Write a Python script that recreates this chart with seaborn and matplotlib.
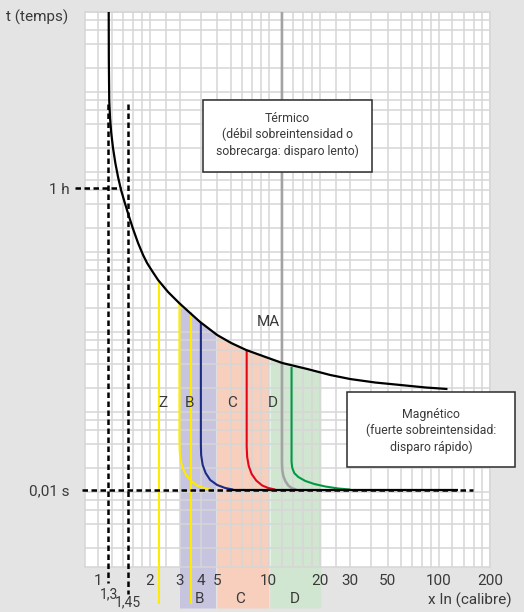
import numpy as np
import pandas as pd
import matplotlib
matplotlib.use("Agg")
import matplotlib.pyplot as plt
from matplotlib.patches import Rectangle
from matplotlib.ticker import FixedLocator, FixedFormatter, NullFormatter
import seaborn as sns

# ---------------- data (x = multiples of In, y = chart time scale) ----------------
thermal_x = [1.151, 1.153, 1.159, 1.172, 1.191, 1.220, 1.259, 1.306, 1.360, 1.426, 1.505,
             1.600, 1.712, 1.832, 1.934, 2.070, 2.245, 2.570, 2.984, 3.462, 3.963, 4.99,
             6.034, 7.39, 9.96, 12.04, 16.89, 23.07, 30.24, 42.43, 59.5, 83.5, 112.5]
thermal_y = [1.259e6, 3.16e5, 1.0e5, 5.96e4, 3.87e4, 2.51e4, 1.63e4, 1.09e4, 7499, 5309, 3652,
             2441, 1631, 1155, 917, 729, 562, 398, 290, 217.5, 168, 115.5,
             91.7, 75, 59.6, 51.6, 43.4, 36.5, 32.5, 29.4, 27.4, 25.5, 24.4]

curve_b_x = [2.996, 2.996, 3.008, 3.045, 3.129, 3.281, 3.511, 3.807, 4.186, 4.541]
curve_b_y = [290, 5.62, 3.98, 3.16, 2.51, 2.05, 1.73, 1.518, 1.413, 1.35]

curve_blue_x = [4.004, 4.004, 4.019, 4.102, 4.272, 4.541, 4.991, 5.564, 6.20]
curve_blue_y = [168, 4.87, 3.65, 2.74, 2.17, 1.78, 1.54, 1.413, 1.35]

curve_c_x = [7.44, 7.44, 7.49, 7.65, 7.96, 8.47, 9.18, 9.96, 10.95]
curve_c_y = [75, 4.60, 3.45, 2.66, 2.11, 1.75, 1.518, 1.413, 1.35]

curve_ma_x = [11.99, 11.99, 12.04, 12.21, 12.54, 13.06, 13.79, 14.55]
curve_ma_y = [1.259e6, 2.985, 2.37, 2.0, 1.73, 1.518, 1.393, 1.35]

curve_d_x = [13.65, 13.65, 13.79, 14.17, 14.95, 16.44, 18.57, 21.56, 25.7, 30.24]
curve_d_y = [45.97, 2.985, 2.51, 2.17, 1.94, 1.73, 1.585, 1.475, 1.393, 1.35]

line_z_x = [2.285, 2.285]
line_z_y = [546, 0.0501]
line_b2_x = [3.5, 3.5]
line_b2_y = [224, 0.0501]

inst_line_x = [6.0, 130.0]          # 0,01 s plateau (solid)
t_fast = 1.35                       # 0,01 s level
t_hour = 7943                       # 1 h level
fast_dash_x = [0.80, 158.0]
hour_dash_x = [0.729, 1.351]

limit_names = ["1,3", "1,45"]
limit_x = [1.145, 1.489]
limit_top = [8.9e4, 8.9e4]
limit_bottom = [0.0917, 0.0668]

band_names = ["B", "C", "D"]
band_lo = [3.0, 4.97, 10.2]
band_hi = [4.88, 10.0, 20.3]
band_colors = ["#c7c4e0", "#f8cfbc", "#d0e6d0"]
band_bottom = 0.0447

tick_values = [1, 2, 3, 4, 5, 10, 20, 30, 50, 100, 200]
tick_labels = ["1", "2", "3", "4", "5", "10", "20", "30", "50", "100", "200"]
grid_mult_x = [1, 1.2, 1.4, 1.6, 1.8, 2, 2.5, 3, 4, 5, 6, 7, 8, 9]
grid_mult_y = [1, 1.25, 2.5, 5, 7.5]

# ---------------- figure ----------------
W, H = 524, 612
plt.rcParams['font.family'] = ['Roboto', 'DejaVu Sans']
TXT = '#3a3a3a'
fig = plt.figure(figsize=(W / 100, H / 100), dpi=100, facecolor='#e4e4e4')
L, R, T, B = 84.7, 490.0, 12.0, 567.0
ax = fig.add_axes([L / W, 1 - B / H, (R - L) / W, (B - T) / H])
ax.set_facecolor('white')
ax.set_xscale('log')
ax.set_yscale('log')
ax.set_xlim(0.8318, 200.0)
ax.set_ylim(0.1454, 1.259e6)

def fx(px):
    return px / W

def fy(py):
    return 1 - py / H

# grid
gx = [m * 10 ** k for k in range(0, 3) for m in grid_mult_x if m * 10 ** k <= 200]
gy = [m * 10 ** k for k in range(-1, 7) for m in grid_mult_y]
gy = [v for v in gy if 0.1454 < v < 1.259e6]
ax.xaxis.remove_overlapping_locs = False
ax.yaxis.remove_overlapping_locs = False
ax.xaxis.set_major_locator(FixedLocator(tick_values))
ax.xaxis.set_major_formatter(FixedFormatter(tick_labels))
ax.xaxis.set_minor_locator(FixedLocator(gx))
ax.xaxis.set_minor_formatter(NullFormatter())
ax.yaxis.set_major_locator(FixedLocator([t_fast, t_hour]))
ax.yaxis.set_major_formatter(FixedFormatter(["0,01 s", "1 h"]))
ax.yaxis.set_minor_locator(FixedLocator(gy))
ax.yaxis.set_minor_formatter(NullFormatter())
ax.grid(False, which='major')
ax.grid(True, which='minor', color='#d6d6d6', lw=1.1)
ax.tick_params(which='both', length=0)
ax.tick_params(axis='x', which='major', pad=5, labelsize=11, labelcolor=TXT)
ax.tick_params(axis='y', which='major', pad=11, labelsize=11, labelcolor=TXT)
for s in ax.spines.values():
    s.set_color('#d6d6d6')
    s.set_linewidth(1.1)

# bands under the thermal curve
lx, ly = np.log10(thermal_x), np.log10(thermal_y)
for lo, hi, col in zip(band_lo, band_hi, band_colors):
    inner = [x for x in thermal_x if lo < x < hi]
    xs = [lo] + inner + [hi]
    ys = [10 ** np.interp(np.log10(x), lx, ly) for x in xs]
    pc = ax.fill_between(xs, [band_bottom] * len(xs), ys, color=col, lw=0, zorder=0.8)
    pc.set_clip_on(False)

def draw(x, y, color, lw, clip=True, dashes=None, z=3):
    sns.lineplot(x=x, y=y, ax=ax, color=color, lw=lw, sort=False, estimator=None,
                 legend=False)
    ln = ax.lines[-1]
    ln.set_zorder(z)
    ln.set_clip_on(clip)
    ln.set_solid_capstyle('butt')
    ln.set_solid_joinstyle('round')
    if dashes is not None:
        ln.set_dashes(dashes)
    return ln

YEL = '#ffeb00'
draw(line_z_x, line_z_y, YEL, 1.5, clip=False)
draw(line_b2_x, line_b2_y, YEL, 1.5, clip=False)
draw(curve_b_x, curve_b_y, YEL, 1.5)
draw(curve_blue_x, curve_blue_y, '#1d2a86', 1.5)
draw(curve_c_x, curve_c_y, '#e3051b', 1.5)
draw(curve_ma_x, curve_ma_y, '#a3a3a3', 1.9)
draw(curve_d_x, curve_d_y, '#009a44', 1.5)
draw(inst_line_x, [t_fast, t_fast], 'black', 1.6, z=3.5)
draw(thermal_x, thermal_y, 'black', 1.6, z=4)

# dashed reference lines
DASH = (2.2, 1.4)
draw(fast_dash_x, [t_fast, t_fast], 'black', 1.8, clip=False, dashes=DASH, z=5)
draw(hour_dash_x, [t_hour, t_hour], 'black', 1.8, clip=False, dashes=DASH, z=5)
for x, top, bot in zip(limit_x, limit_top, limit_bottom):
    draw([x, x], [top, bot], 'black', 1.8, clip=False, dashes=DASH, z=5)

# texts
fs = 11
fig.text(fx(6), fy(17), "t (temps)", ha='left', va='center', fontsize=fs, color=TXT)
fig.text(fx(512), fy(600), "x In (calibre)", ha='right', va='center', fontsize=fs, color=TXT)
fig.text(fx(109), fy(594), limit_names[0], ha='center', va='center', fontsize=10, color=TXT)
fig.text(fx(128), fy(602), limit_names[1], ha='center', va='center', fontsize=10, color=TXT)
for name, px in zip(band_names, [200, 240, 295]):
    fig.text(fx(px), fy(599), name, ha='center', va='center', fontsize=fs, color=TXT)
for name, px in zip(["Z", "B", "C", "D"], [163, 190, 232, 273]):
    fig.text(fx(px), fy(403), name, ha='center', va='center', fontsize=fs, color=TXT)
fig.text(fx(268), fy(322), "MA", ha='center', va='center', fontsize=fs, color=TXT)

# boxes
def box(x0, y0, x1, y1, text, cx, cy):
    r = Rectangle((fx(x0), fy(y1)), fx(x1) - fx(x0), fy(y0) - fy(y1),
                  transform=fig.transFigure, facecolor='white', edgecolor='#2b2b2b',
                  lw=1.1, zorder=10)
    fig.patches.append(r)
    fig.text(fx(cx), fy(cy), text, ha='center', va='center', fontsize=8.8, color=TXT,
             linespacing=1.27, zorder=11)

box(203, 100, 372, 172, "Térmico\n(débil sobreintensidad o\nsobrecarga: disparo lento)", 287.5, 135)
box(347, 392, 515, 467, "Magnético\n(fuerte sobreintensidad:\ndisparo rápido)", 431, 431)

fig.savefig("out.png", dpi=100, facecolor=fig.get_facecolor())
